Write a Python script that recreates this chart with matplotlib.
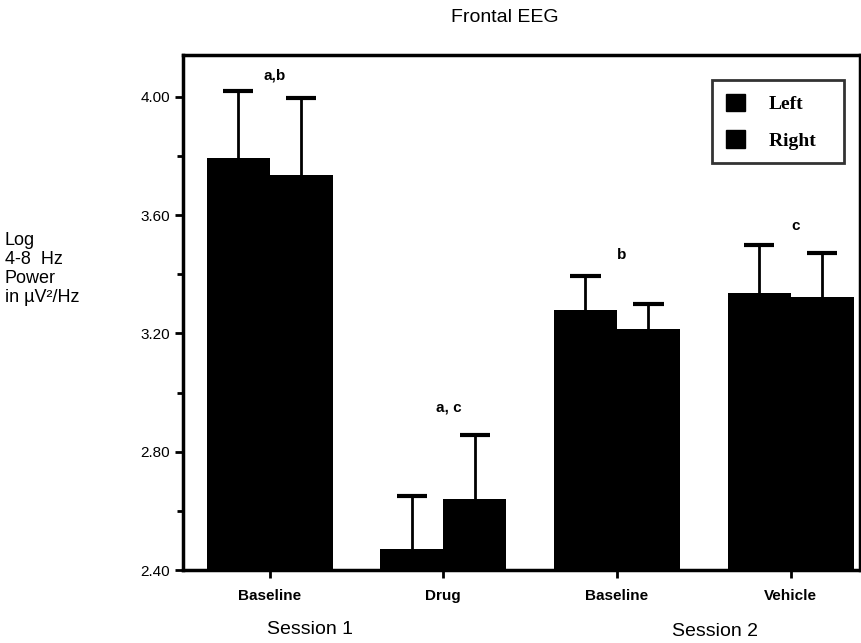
import matplotlib
matplotlib.use("Agg")
import matplotlib.pyplot as plt
from matplotlib.patches import Patch

# data
conditions = ["Baseline", "Drug", "Baseline", "Vehicle"]
left_mean = [3.795, 2.47, 3.278, 3.336]
left_err = [0.225, 0.18, 0.117, 0.165]
right_mean = [3.737, 2.639, 3.216, 3.322]
right_err = [0.26, 0.218, 0.085, 0.15]
sig_labels = ["a,b", "a, c", "b", "c"]
sig_y = [4.074, 2.948, 3.466, 3.564]

plt.rcParams['font.family'] = ['Liberation Sans', 'DejaVu Sans']

fig = plt.figure(figsize=(8.62, 6.43), dpi=100)
ax = fig.add_axes([183/862, 1-570/643, 677/862, 515/643])

w = 0.363
cap = 0.175
x = list(range(len(conditions)))
xl = [i - w/2 for i in x]
xr = [i + w/2 for i in x]
ax.bar(xl, left_mean, width=w, color='black', linewidth=0)
ax.bar(xr, right_mean, width=w, color='black', linewidth=0)

# upper error bars only
for xs, m, e in [(xl, left_mean, left_err), (xr, right_mean, right_err)]:
    tops = [a + b for a, b in zip(m, e)]
    ax.vlines(xs, m, tops, color='black', linewidth=2)
    ax.hlines(tops, [v - cap/2 for v in xs], [v + cap/2 for v in xs], color='black', linewidth=3)

for i, (lab, yy) in enumerate(zip(sig_labels, sig_y)):
    ax.text(i + 0.03, yy, lab, ha='center', va='center', fontsize=11, fontweight='bold')

ax.set_ylim(2.40, 4.142)
ax.set_xlim(-0.499, 3.40)
ax.set_yticks([2.4, 2.8, 3.2, 3.6, 4.0])
ax.set_yticklabels(["2.40", "2.80", "3.20", "3.60", "4.00"])
ax.set_yticks([2.6, 3.0, 3.4, 3.8], minor=True)
ax.set_xticks(x)
ax.set_xticklabels(conditions, fontweight='bold')
ax.tick_params(axis='both', direction='out', width=2, length=6, labelsize=11)
ax.tick_params(axis='y', which='minor', direction='out', width=2, length=4)
ax.tick_params(axis='x', pad=8)
for s in ax.spines.values():
    s.set_linewidth(2.5)

leg = ax.legend(handles=[Patch(color='black', label='Left'), Patch(color='black', label='Right   ')],
                loc='upper right', bbox_to_anchor=(0.976, 0.9515), borderaxespad=0,
                frameon=True, fancybox=False,
                edgecolor='black', handlelength=1.0, handleheight=1.0, borderpad=0.7,
                labelspacing=0.9, handletextpad=1.2,
                prop={'family': 'Liberation Serif', 'weight': 'bold', 'size': 14})
leg.get_frame().set_linewidth(2)

fig.text(505/862, 1-18/643, "Frontal EEG", ha='center', va='center', fontsize=14)
fig.text(5/862, 1-269/643, "Log\n4-8  Hz\nPower\nin µV²/Hz", ha='left', va='center',
         fontsize=13, linespacing=1.15)
fig.text(310/862, 1-630/643, "Session 1", ha='center', va='center', fontsize=14)
fig.text(715/862, 1-632/643, "Session 2", ha='center', va='center', fontsize=14)

fig.savefig("out.png", dpi=100)
